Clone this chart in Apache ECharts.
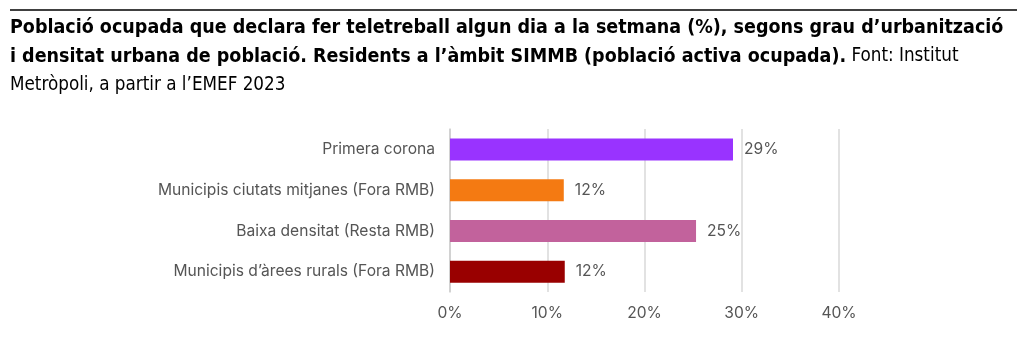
<!DOCTYPE html>
<html><head><meta charset="utf-8">
<script src="https://cdn.jsdelivr.net/npm/echarts@6/dist/echarts.min.js"></script>
<style>html,body{margin:0;padding:0;background:#fff}#c{width:1027px;height:356px}</style>
</head><body><div id="c"></div>
<script>
const categories = ['Primera corona','Municipis ciutats mitjanes (Fora RMB)','Baixa densitat (Resta RMB)','Municipis d’àrees rurals (Fora RMB)'];
const values = [29.1, 11.7, 25.3, 11.8];
const valueLabels = ['29%','12%','25%','12%'];
const colors = ['#9933ff','#f47a12','#c2629c','#990000'];
const xTicks = [0,10,20,30,40];

const chart = echarts.init(document.getElementById('c'));
chart.setOption({
  animation:false,
  title:{
    left:10, top:13, padding:0,
    text:'{b|Població ocupada que declara fer teletreball algun dia a la setmana (%), segons grau d’urbanització}\n{b|i densitat urbana de població. Residents a l’àmbit SIMMB (població activa ocupada).}{n| Font: Institut}\n{n|Metròpoli, a partir a l’EMEF 2023}',
    textStyle:{
      fontWeight:'normal',
      rich:{
        b:{fontFamily:'DejaVu Sans Condensed',fontWeight:'bold',fontSize:19.5,color:'#000',lineHeight:29},
        n:{fontFamily:'DejaVu Sans Condensed',fontWeight:'normal',fontSize:18.7,color:'#000',lineHeight:29}
      }
    }
  },
  graphic:[{type:'line',shape:{x1:10,y1:10,x2:1017,y2:10},style:{stroke:'#000',lineWidth:1.5}}],
  grid:{left:450,top:129,width:389,height:163,containLabel:false},
  xAxis:{type:'value',min:0,max:40,interval:10,
    axisLine:{show:false},axisTick:{show:false},
    splitLine:{lineStyle:{color:'#d9d9d9',width:1.5}},
    axisLabel:{formatter:v=>xTicks.includes(v)?v+'%':'',color:'#555',fontFamily:'Inter',fontSize:15.6,margin:13}
  },
  yAxis:{type:'category',data:categories,inverse:true,
    axisLine:{lineStyle:{color:'#ccc',width:1.5}},axisTick:{show:false},
    axisLabel:{color:'#555',fontFamily:'Inter',fontSize:15.6,margin:15}
  },
  series:[{type:'bar',barWidth:22,
    data:values.map((v,i)=>({value:v,itemStyle:{color:colors[i]}})),
    label:{show:true,position:'right',distance:11,color:'#555',fontFamily:'Inter',fontSize:15.6,
      formatter:p=>valueLabels[p.dataIndex]}
  }]
});
</script></body></html>
